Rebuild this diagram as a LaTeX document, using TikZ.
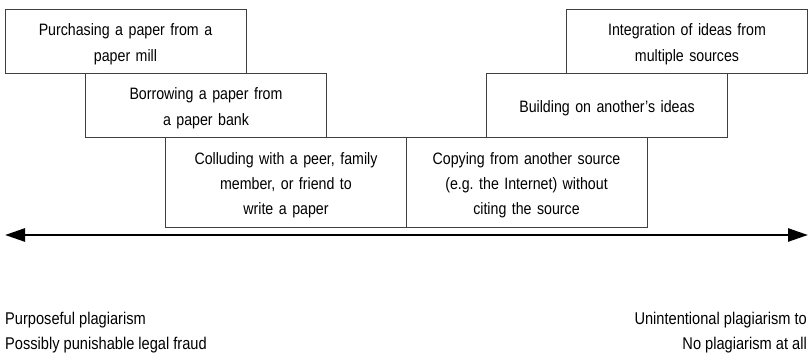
\documentclass[tikz,border=0pt]{standalone}
\usepackage{fontspec}
\setmainfont[FakeStretch=0.86]{Liberation Sans}
\usetikzlibrary{arrows.meta}
\begin{document}
\begin{tikzpicture}[x=1pt,y=-1pt,
  stage/.style={draw=black!75, line width=0.8pt, minimum width=241pt, inner sep=0pt, align=center,
    font=\fontsize{16.5}{26}\selectfont, text width=236pt, text height=19pt},
  lbl/.style={inner sep=0pt, font=\fontsize{17}{25}\selectfont}]
\useasboundingbox (0,0) rectangle (812,363);
\node[stage, minimum height=64pt] (mill) at (125.5,41) {Purchasing a paper from a\\paper mill};
\node[stage, minimum height=64pt] (bank) at (206,105) {Borrowing a paper from\\a paper bank};
\node[stage, minimum height=90pt, font=\fontsize{16.5}{25}\selectfont] (collude) at (286,182) {Colluding with a peer, family\\member, or friend to\\write a paper};
\node[stage, minimum height=90pt, font=\fontsize{16.5}{25}\selectfont] (copy) at (526.5,182) {Copying from another source\\(e.g.\ the Internet) without\\citing the source};
\node[stage, minimum height=64pt] (build) at (607,105) {Building on another’s ideas};
\node[stage, minimum height=64pt] (integ) at (687,41) {Integration of ideas from\\multiple sources};
\coordinate (left) at (5,235);
\coordinate (right) at (808,235);
\draw[line width=2.6pt, {Triangle[length=20pt,width=13pt]}-{Triangle[length=20pt,width=13pt]}] (left) -- (right);
\node[lbl, anchor=west, align=left] (purp) at (5,333) {Purposeful plagiarism\\Possibly punishable legal fraud};
\node[lbl, anchor=east, align=right] (unint) at (807,333) {Unintentional plagiarism to\\No plagiarism at all};
\end{tikzpicture}
\end{document}
